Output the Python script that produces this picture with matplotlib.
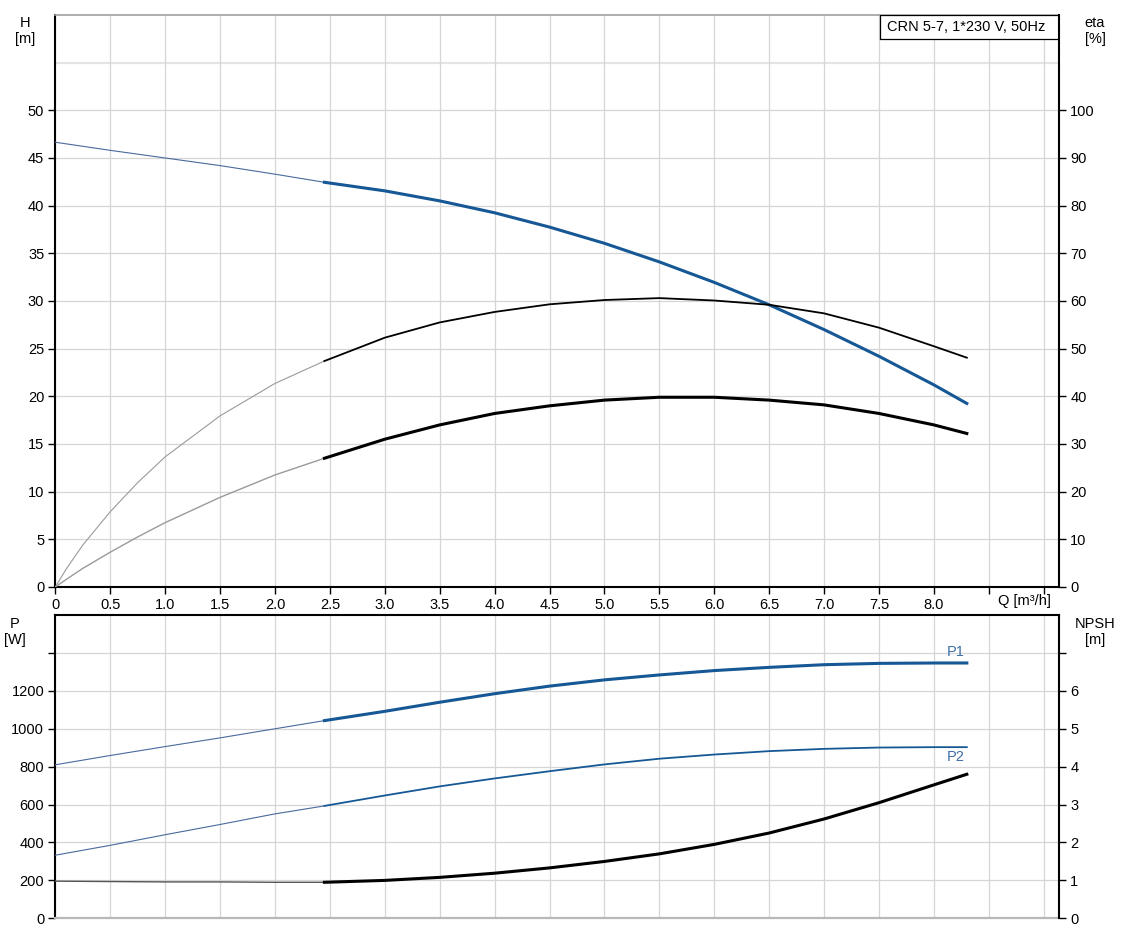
import numpy as np
import matplotlib
matplotlib.use("Agg")
import matplotlib.pyplot as plt
from matplotlib.patches import Rectangle

plt.rcParams['font.family'] = ['Liberation Sans', 'DejaVu Sans']
plt.rcParams['font.size'] = 10.5

# flow rate Q [m3/h]; thin part runs to 2.45, thick part from 2.45 on
q_thin = [0, 0.5, 1.0, 1.5, 2.0, 2.45]
q_thick = [2.45, 3.0, 3.5, 4.0, 4.5, 5.0, 5.5, 6.0, 6.5, 7.0, 7.5, 8.0, 8.3]
q_eta_thin = [0, 0.1, 0.25, 0.5, 0.75, 1.0, 1.5, 2.0, 2.45]

# head H [m]
h_thin = [46.65, 45.8, 45.0, 44.2, 43.3, 42.45]
h_thick = [42.45, 41.55, 40.5, 39.25, 37.75, 36.05, 34.1, 31.95, 29.6, 27.0, 24.2, 21.2, 19.25]

# efficiency eta [%] (pump, and total)
eta_p_thin = [0, 3.8, 8.8, 15.8, 21.9, 27.3, 35.9, 42.7, 47.4]
eta_p_thick = [47.4, 52.3, 55.5, 57.7, 59.3, 60.2, 60.6, 60.1, 59.2, 57.4, 54.4, 50.5, 48.1]
eta_t_thin = [0, 1.6, 3.9, 7.3, 10.5, 13.5, 18.8, 23.5, 27.0]
eta_t_thick = [27.0, 31.0, 34.0, 36.4, 38.0, 39.2, 39.8, 39.8, 39.2, 38.2, 36.4, 34.0, 32.2]

# power P1, P2 [W]
p1_thin = [810, 859, 906, 952, 1000, 1043]
p1_thick = [1043, 1092, 1140, 1185, 1225, 1258, 1284, 1307, 1324, 1338, 1345, 1347, 1347]
p2_thin = [333, 385, 441, 495, 551, 593]
p2_thick = [593, 648, 696, 738, 776, 812, 842, 864, 882, 894, 901, 903, 903]

# NPSH [m]
npsh_thin = [0.98, 0.97, 0.96, 0.96, 0.95, 0.95]
npsh_thick = [0.95, 1.0, 1.08, 1.19, 1.33, 1.5, 1.7, 1.95, 2.25, 2.62, 3.05, 3.52, 3.8]

x_ticks = np.arange(0, 9.01, 0.5)
x_labels = ['0'] + ['%.1f' % v for v in x_ticks[1:17]] + ['', '']

blue = '#165795'
thin_blue = '#4a6a9c'
grey = '#9a9a9a'
grid_c = '#d6d6d6'

fig = plt.figure(figsize=(11.25, 9.36), dpi=100)

# ---------- upper panel: H and eta ----------
ax1 = fig.add_axes([0.0492, 0.3729, 0.8922, 0.6111])
ax1.set_xlim(0, 9.14)
ax1.set_ylim(0, 60)
ax1.set_xticks(x_ticks)
ax1.set_xticklabels(x_labels)
ax1.set_yticks(range(0, 51, 5))
ax1.grid(True, color=grid_c, lw=0.9, zorder=0)
ax1.axhline(55, color='#e4e4e4', lw=1.6, zorder=0)
ax1.tick_params(direction='out', length=5, width=1, colors='black', pad=3)
for s in ['left', 'bottom']:
    ax1.spines[s].set_linewidth(1.5)
ax1.spines['top'].set_color('#a0a0a0')
ax1.spines['top'].set_linewidth(1.2)
ax1.spines['right'].set_visible(False)

ax1.plot(q_thin, h_thin, color=thin_blue, lw=0.8, zorder=3)
ax1.plot(q_thick, h_thick, color=blue, lw=2.2, zorder=4)

ax1r = ax1.twinx()
ax1r.set_ylim(0, 120)
ax1r.set_yticks(range(0, 101, 10))
ax1r.tick_params(direction='out', length=5, width=1, pad=3)
ax1r.spines['right'].set_linewidth(1.5)
for s in ['left', 'top', 'bottom']:
    ax1r.spines[s].set_visible(False)

ax1r.plot(q_eta_thin, eta_p_thin, color=grey, lw=0.8, zorder=3)
ax1r.plot(q_thick, eta_p_thick, color='black', lw=1.3, zorder=3)
ax1r.plot(q_eta_thin, eta_t_thin, color=grey, lw=1.0, zorder=3)
ax1r.plot(q_thick, eta_t_thick, color='black', lw=2.2, zorder=3)

ax1.add_patch(Rectangle((0.8217, 0.958), 0.1783, 0.042, transform=ax1.transAxes,
                        facecolor='white', edgecolor='black', lw=0.9, zorder=6))
ax1.text(0.8285, 0.979, 'CRN 5-7, 1*230 V, 50Hz', transform=ax1.transAxes,
         ha='left', va='center', fontsize=10.5, zorder=7)

# ---------- lower panel: P and NPSH ----------
ax2 = fig.add_axes([0.0492, 0.0189, 0.8922, 0.324])
ax2.set_xlim(0, 9.14)
ax2.set_ylim(0, 1600)
ax2.set_xticks(x_ticks)
ax2.set_yticks(range(0, 1401, 200))
ax2.set_yticklabels([str(v) for v in range(0, 1201, 200)] + [''])
ax2.grid(True, color=grid_c, lw=0.9, zorder=0)
ax2.tick_params(axis='y', direction='out', length=5, width=1, pad=3)
ax2.tick_params(axis='x', length=0, labelbottom=False)
for s in ['left', 'top']:
    ax2.spines[s].set_linewidth(1.5)
ax2.spines['bottom'].set_color('#b8b8b8')
ax2.spines['bottom'].set_linewidth(1.6)
ax2.spines['right'].set_visible(False)

ax2.plot(q_thin, p1_thin, color=thin_blue, lw=0.8, zorder=3)
ax2.plot(q_thick, p1_thick, color=blue, lw=2.2, zorder=3)
ax2.plot(q_thin, p2_thin, color=thin_blue, lw=0.8, zorder=3)
ax2.plot(q_thick, p2_thick, color=blue, lw=1.3, zorder=3)
ax2.text(8.2, 1407, 'P1', color='#3d6fa6', ha='center', va='center', fontsize=10.5)
ax2.text(8.2, 849, 'P2', color='#3d6fa6', ha='center', va='center', fontsize=10.5)

ax2r = ax2.twinx()
ax2r.set_ylim(0, 8)
ax2r.set_yticks(range(0, 8))
ax2r.set_yticklabels([str(v) for v in range(0, 7)] + [''])
ax2r.tick_params(direction='out', length=5, width=1, pad=3)
ax2r.spines['right'].set_linewidth(1.5)
for s in ['left', 'top', 'bottom']:
    ax2r.spines[s].set_visible(False)

ax2r.plot(q_thin, npsh_thin, color='#555555', lw=1.0, zorder=3)
ax2r.plot(q_thick, npsh_thick, color='black', lw=2.2, zorder=3)

# axis titles
fig.text(25 / 1125, 1 - 31 / 936, 'H\n[m]', ha='center', va='center', fontsize=10.5, linespacing=1.2)
fig.text(1095 / 1125, 1 - 31 / 936, 'eta\n[%]', ha='center', va='center', fontsize=10.5, linespacing=1.2)
fig.text(1024 / 1125, 1 - 601 / 936, 'Q [m³/h]', ha='center', va='center', fontsize=10.5)
fig.text(15 / 1125, 1 - 632 / 936, 'P\n[W]', ha='center', va='center', fontsize=10.5, linespacing=1.2)
fig.text(1095 / 1125, 1 - 632 / 936, 'NPSH\n[m]', ha='center', va='center', fontsize=10.5, linespacing=1.2)

fig.savefig('out.png', dpi=100)
